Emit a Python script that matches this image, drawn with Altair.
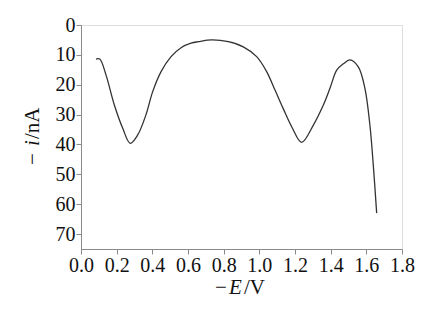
import altair as alt
import pandas as pd

E = [0.084, 0.105, 0.140, 0.187, 0.234, 0.276, 0.318, 0.364, 0.402, 0.449, 0.505, 0.561,
     0.617, 0.658, 0.733, 0.826, 0.910, 0.985, 1.041, 1.088, 1.134, 1.185, 1.237, 1.303,
     1.359, 1.396, 1.434, 1.471, 1.508, 1.555, 1.592, 1.620, 1.639, 1.658]
I = [11.4, 11.4, 16.7, 26.8, 34.6, 39.6, 36.8, 30.1, 22.3, 15.6, 10.6, 7.6,
     6.1, 5.6, 5.0, 5.6, 7.3, 10.6, 15.6, 21.8, 28.0, 34.5, 39.3, 33.5,
     26.8, 21.2, 15.1, 13.0, 11.7, 14.0, 21.2, 33.5, 46.9, 63.0]

x_ticks = [0.0, 0.2, 0.4, 0.6, 0.8, 1.0, 1.2, 1.4, 1.6, 1.8]
y_ticks = [0, 10, 20, 30, 40, 50, 60, 70]

df = pd.DataFrame({"E": E, "I": I})
FONT = "Liberation Serif"
FS = 21
LFS = 20
GRAY = "#8a8a8a"

line = alt.Chart(df).mark_line(color="#333333", strokeWidth=1.3, interpolate="catmull-rom").encode(
    x=alt.X("E:Q", scale=alt.Scale(domain=[0, 1.8], nice=False),
            axis=alt.Axis(values=x_ticks, format=".1f", title=None, grid=False,
                          domainColor=GRAY, tickColor=GRAY, tickSize=5,
                          labelPadding=1, labelFont=FONT, labelFontSize=LFS,
                          labelColor="#111", labelFlush=False, labelOverlap=False)),
    y=alt.Y("I:Q", scale=alt.Scale(domain=[0, 75], reverse=True, nice=False),
            axis=alt.Axis(values=y_ticks, format="d", title=None, grid=False,
                          domainColor=GRAY, tickColor=GRAY, tickSize=5,
                          labelPadding=1, labelFont=FONT, labelFontSize=LFS,
                          labelColor="#111", labelFlush=False, labelOverlap=False)),
)

one = pd.DataFrame({"k": [0]})

def piece(txt, x, y, italic=False, angle=0):
    kw = dict(text=txt, font=FONT, fontSize=FS, color="#111", align="left",
              baseline="alphabetic", angle=angle)
    if italic:
        kw["fontStyle"] = "italic"
    return alt.Chart(one).mark_text(**kw).encode(x=alt.value(x), y=alt.value(y))

# x-axis title: "−E/V"
xt_base = 269
xt = [piece("\u2212", 134, xt_base), piece("E", 148, xt_base, italic=True),
      piece("/V", 163, xt_base)]
# y-axis title: "−i/nA" rotated
yx = -42
yt = [piece("\u2212", yx, 140, angle=270), piece("i", yx, 121, italic=True, angle=270),
      piece("/nA", yx, 114, angle=270)]

chart = alt.layer(line, *xt, *yt).properties(
    width=321, height=224,
    autosize=alt.AutoSizeParams(type="none"),
    padding={"left": 81, "top": 25, "right": 45, "bottom": 66},
).configure_view(stroke=GRAY, strokeWidth=1.2).configure(background="white")

chart.save("out.html", embed_options={"renderer": "svg", "actions": False})
